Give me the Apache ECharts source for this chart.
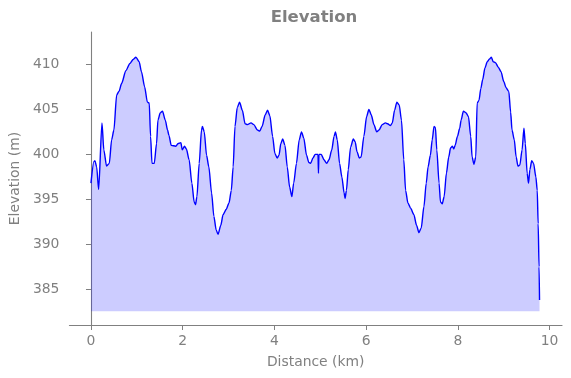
<!DOCTYPE html>
<html>
<head>
<meta charset="utf-8">
<script src="https://cdn.jsdelivr.net/npm/echarts@6/dist/echarts.min.js"></script>
<style>html,body{margin:0;padding:0;background:#fff}#c{width:571px;height:378px}</style>
</head>
<body>
<div id="c"></div>
<script>
const distanceKm = [0,0.065,0.087,0.124,0.167,0.24,0.28,0.34,0.4,0.45,0.5,0.56,0.61,0.67,0.76,0.85,0.92,0.98,1.05,1.10,1.17,1.23,1.27,1.30,1.33,1.38,1.43,1.46,1.51,1.56,1.62,1.67,1.70,1.75,1.85,1.90,1.96,1.99,2.04,2.08,2.14,2.20,2.25,2.28,2.31,2.36,2.41,2.43,2.47,2.52,2.57,2.63,2.68,2.73,2.77,2.83,2.88,2.95,3.01,3.06,3.10,3.14,3.19,3.24,3.30,3.36,3.41,3.49,3.55,3.63,3.68,3.73,3.80,3.85,3.90,3.96,4.01,4.06,4.10,4.14,4.18,4.23,4.28,4.33,4.38,4.42,4.48,4.54,4.59,4.64,4.70,4.75,4.79,4.84,4.89,4.95,4.96,4.97,5.02,5.08,5.14,5.19,5.25,5.30,5.33,5.37,5.42,5.47,5.52,5.54,5.57,5.61,5.66,5.72,5.76,5.80,5.85,5.89,5.95,6.01,6.06,6.11,6.17,6.23,6.28,6.35,6.42,6.47,6.53,6.57,6.62,6.67,6.72,6.77,6.82,6.86,6.91,6.97,7.04,7.10,7.15,7.20,7.26,7.31,7.35,7.40,7.44,7.48,7.51,7.54,7.59,7.62,7.66,7.70,7.75,7.80,7.84,7.88,7.91,7.94,7.99,8.04,8.07,8.12,8.18,8.23,8.28,8.31,8.35,8.39,8.42,8.46,8.50,8.54,8.59,8.64,8.69,8.73,8.77,8.82,8.88,8.94,9.00,9.05,9.11,9.15,9.18,9.23,9.27,9.31,9.35,9.40,9.44,9.47,9.51,9.54,9.57,9.61,9.65,9.70,9.73,9.75,9.77,9.78];
const elevationM = [396.8,399.2,399.3,398.6,396.1,403.5,400.5,398.7,399,401.6,402.7,406.6,407,407.9,409.3,410.1,410.55,410.8,410.3,409.2,407.5,405.8,405.7,402,399,399,401.2,403.8,404.6,404.8,403.8,402.7,402.1,401,400.9,401.2,401.3,400.5,400.9,400.6,399.4,396.8,394.7,394.4,395.3,399,402.7,403.1,402.5,399.9,398.6,395.7,393.1,391.6,391.1,392.1,393.3,393.9,394.6,396,398.6,403.1,405.2,405.8,404.9,403.4,403.3,403.5,403.3,402.7,402.6,403.1,404.4,404.9,404.3,402,400.1,399.6,399.9,401.2,401.7,401,398.6,396.4,395.3,396.8,399,401.6,402.5,401.8,399.9,399.1,399,399.6,400,400,397.9,400,400,399.4,399,399.4,400.5,402,402.5,401.6,399,397.5,395.7,395.1,396,398.3,400.8,401.7,401.4,400.3,399.6,399.7,402,404.2,405,404.4,403.3,402.5,402.7,403.3,403.5,403.4,403.2,403.5,404.9,405.8,405.5,403.8,399.4,396,394.6,394,393.3,392.1,391.3,391.8,394.2,396.8,398.6,399.9,401.6,403.1,403,400.5,396.8,394.7,394.5,395.3,397.9,399.7,400.7,400.9,400.6,401,402,402.9,403.8,404.8,404.6,404.2,402,399.7,398.9,399.7,405.7,406,407.3,408.3,409.6,410.3,410.6,410.8,410.3,410.2,409.7,409.2,408.1,407.4,407,404.7,402.7,401.6,399.7,398.7,398.8,400.5,402.9,401.2,397.9,396.8,398.3,399.3,399,397.5,396,392.3,387.5,383.8];
const xTicks = [0,2,4,6,8,10];
const yTicks = [385,390,395,400,405,410];
const fillBase = 382.55;

const data = distanceKm.map((d, i) => [d, elevationM[i]]);
const gray = '#808080';
const font = 'DejaVu Sans';

const chart = echarts.init(document.getElementById('c'), null, {renderer: 'canvas'});
chart.setOption({
  animation: false,
  graphic: [{
    type: 'text', left: null, x: 314, y: 18,
    style: {text: 'Elevation', fill: gray, font: 'bold 16.5px "DejaVu Sans"', textAlign: 'center', textVerticalAlign: 'middle'}
  }],
  grid: {left: 67, right: 9, top: 32, bottom: 53, containLabel: false},
  xAxis: {
    type: 'value', min: -0.47, max: 10.27,
    name: 'Distance (km)', nameLocation: 'middle', nameGap: 30,
    nameTextStyle: {color: gray, fontFamily: font, fontSize: 13.9},
    axisLine: {onZero: false, lineStyle: {color: gray, width: 1.1}},
    axisTick: {show: true, length: 5, lineStyle: {color: gray}, customValues: xTicks},
    axisLabel: {color: gray, fontFamily: font, fontSize: 13.9, margin: 9, customValues: xTicks},
    splitLine: {show: false}
  },
  yAxis: {
    type: 'value', min: 381.03, max: 413.6,
    name: 'Elevation (m)', nameLocation: 'middle', nameGap: 42,
    nameTextStyle: {color: gray, fontFamily: font, fontSize: 13.9},
    axisLine: {show: true, lineStyle: {color: gray, width: 1.1}},
    axisTick: {show: true, length: 5, lineStyle: {color: gray}, customValues: yTicks},
    axisLabel: {color: gray, fontFamily: font, fontSize: 13.9, margin: 10, customValues: yTicks},
    splitLine: {show: false}
  },
  series: [{
    type: 'line', data: data, showSymbol: false, smooth: 0.25, smoothMonotone: 'x',
    lineStyle: {color: '#0000ff', width: 1.4},
    areaStyle: {color: 'rgba(0,0,255,0.2)', origin: fillBase, opacity: 1}
  }]
});
</script>
</body>
</html>
